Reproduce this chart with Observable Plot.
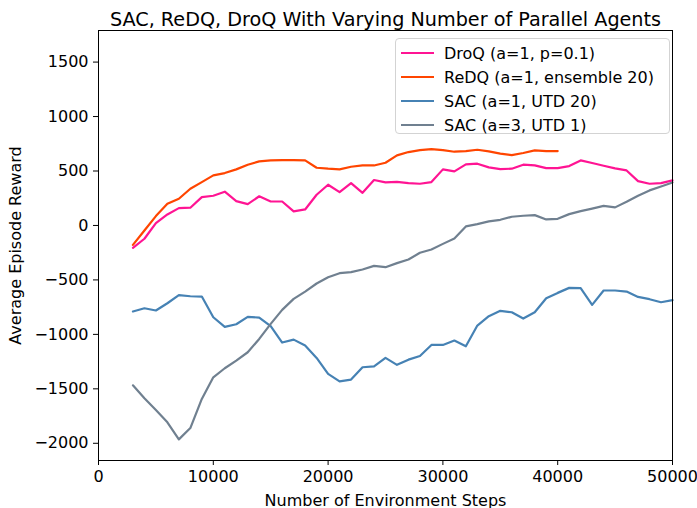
<!DOCTYPE html>
<html><head><meta charset="utf-8">
<script src="https://cdn.jsdelivr.net/npm/d3@7"></script>
<script src="https://cdn.jsdelivr.net/npm/@observablehq/plot@0.6"></script>
<style>
body{margin:0;background:#fff;font-family:"DejaVu Sans",sans-serif;}
#wrap{position:relative;width:697px;height:508px;}
#legend{position:absolute;left:395px;top:38px;width:275px;height:96px;box-sizing:border-box;border:1px solid #d3d3d3;border-radius:4px;background:rgba(255,255,255,0.8);font-size:16px;color:#000;}
.row{position:absolute;left:5px;height:24px;display:flex;align-items:center;white-space:nowrap;}
.row svg{margin-right:10px;}
</style></head><body>
<div id="wrap"><div id="legend"></div></div>
<script>
const title = "SAC, ReDQ, DroQ With Varying Number of Parallel Agents";
const xLabel = "Number of Environment Steps";
const yLabel = "Average Episode Reward";
const xTicks = [0, 10000, 20000, 30000, 40000, 50000];
const yTicks = [-2000, -1500, -1000, -500, 0, 500, 1000, 1500];
const seriesNames = ["DroQ (a=1, p=0.1)", "ReDQ (a=1, ensemble 20)", "SAC (a=1, UTD 20)", "SAC (a=3, UTD 1)"];
const seriesColors = ["#ff1493", "#ff4500", "#4682b4", "#708090"];

const steps = [3000,4000,5000,6000,7000,8000,9000,10000,11000,12000,13000,14000,
  15000,16000,17000,18000,19000,20000,21000,22000,23000,24000,25000,26000,
  27000,28000,29000,30000,31000,32000,33000,34000,35000,36000,37000,38000,
  39000,40000,41000,42000,43000,44000,45000,46000,47000,48000,49000,50000];

const droq = [-205,-122,21,101,159,163,260,273,310,224,196,268,
  220,220,129,147,282,374,306,389,300,417,395,401,
  389,383,398,515,496,561,567,533,518,521,558,552,
  527,527,545,597,573,548,524,505,407,383,389,414];

const redq = [-178,-46,86,199,245,337,398,460,481,515,558,588,
  597,600,600,597,530,521,515,539,551,551,576,643,
  674,692,701,692,677,683,695,680,659,646,665,690,
  683,683];

const sac1 = [-790,-760,-781,-714,-640,-650,-653,-843,-931,-907,-839,-846,
  -925,-1075,-1048,-1103,-1216,-1363,-1431,-1415,-1302,-1293,-1216,-1280,
  -1232,-1198,-1097,-1097,-1057,-1109,-919,-833,-784,-797,-855,-797,
  -668,-619,-573,-576,-729,-597,-597,-607,-656,-677,-705,-686];

const sac3 = [-1468,-1587,-1694,-1807,-1964,-1860,-1593,-1394,-1311,-1241,-1164,-1042,
  -904,-775,-674,-607,-533,-475,-438,-429,-404,-371,-383,-346,
  -313,-251,-221,-169,-119,-9,12,37,52,80,89,95,
  55,61,104,132,155,180,166,217,273,322,358,395];

const seriesValues = [droq, redq, sac1, sac3];
const rows = [];
seriesValues.forEach((vals, i) => vals.forEach((v, j) => rows.push({step: steps[j], reward: v, series: seriesNames[i]})));

const plot = Plot.plot({
  width: 697, height: 508,
  marginLeft: 98, marginRight: 25, marginTop: 30, marginBottom: 48,
  style: {fontFamily: "DejaVu Sans", fontSize: "16px", color: "black", background: "white", overflow: "visible"},
  x: {domain: [0, 50000], ticks: xTicks, tickFormat: d3.format("d"), tickSize: 5, tickPadding: 5,
      label: xLabel, labelAnchor: "center", labelArrow: "none", labelOffset: 45},
  y: {domain: [-2158, 1790], ticks: yTicks, tickFormat: d3.format("d"), tickSize: 5, tickPadding: 5,
      label: yLabel, labelAnchor: "center", labelArrow: "none", labelOffset: 89},
  color: {domain: seriesNames, range: seriesColors},
  marks: [
    Plot.line(rows, {x: "step", y: "reward", z: "series", stroke: "series", strokeWidth: 2.2, strokeLinejoin: "round"}),
    Plot.frame({stroke: "black", strokeWidth: 1}),
    Plot.text([title], {text: d => d, frameAnchor: "top", lineAnchor: "bottom", dy: -5, fontSize: 19.2})
  ]
});
const wrap = document.getElementById("wrap");
wrap.insertBefore(plot, wrap.firstChild);

const legend = document.getElementById("legend");
seriesNames.forEach((name, i) => {
  const r = document.createElement("div");
  r.className = "row";
  r.style.top = (2 + i * 24) + "px";
  r.innerHTML = `<svg width="33" height="4"><line x1="0" x2="33" y1="2" y2="2" stroke="${seriesColors[i]}" stroke-width="2.2"/></svg><span>${name}</span>`;
  legend.appendChild(r);
});
</script>
</body></html>
